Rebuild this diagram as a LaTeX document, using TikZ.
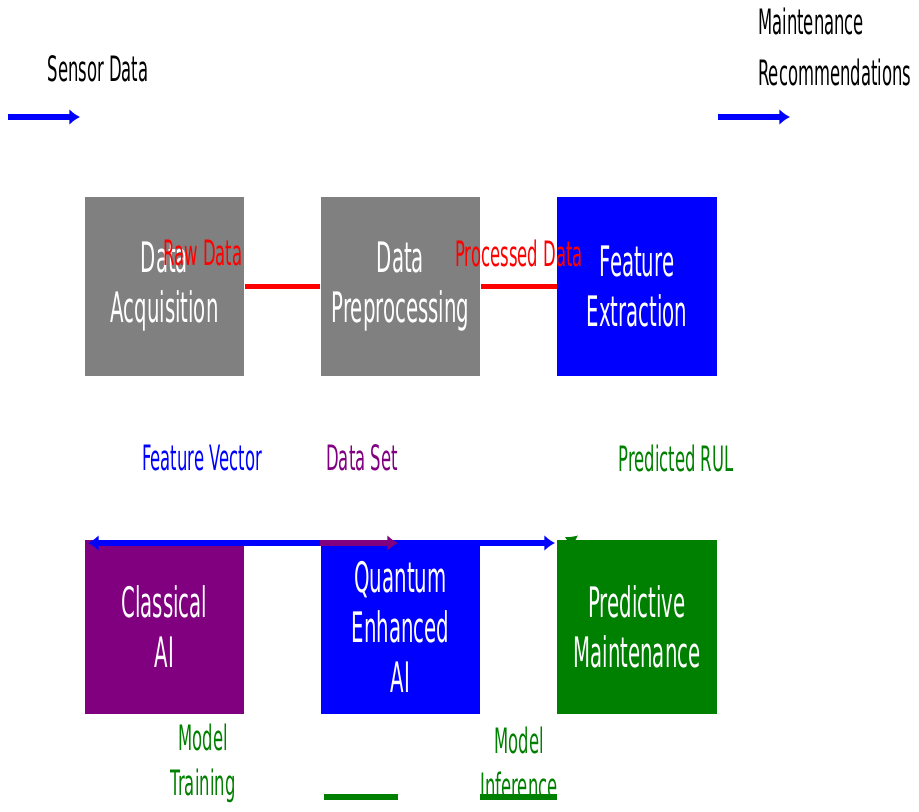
\documentclass[tikz,border=0pt]{standalone}
\usepackage{fontspec}
\setmainfont[FakeStretch=0.47]{DejaVu Sans}
\usetikzlibrary{arrows.meta}
\definecolor{mplgray}{RGB}{128,128,128}
\definecolor{mplgreen}{RGB}{0,128,0}
\definecolor{mplpurple}{RGB}{128,0,128}
\newcommand{\boxfont}{\fontsize{23.9}{28.5}\selectfont}
\newcommand{\labfont}{\fontsize{19.9}{28.5}\selectfont}
\newcommand{\modfont}{\fontsize{19.9}{25.6}\selectfont}

\begin{document}
\begin{tikzpicture}[x=0.02cm,y=-0.02cm,>={Latex[length=6pt,width=9pt]},
  stage/.style={rectangle,inner sep=0pt,minimum width=3.2cm,minimum height=3.58cm,
    text=white,align=center,font=\boxfont},
  flow/.style={#1,line width=3pt},
  tag/.style={text=#1,align=center,font=\labfont}]
\useasboundingbox (0,0) rectangle (919,811);

% === Pipeline, top row ===
\node[stage,fill=mplgray] (acq) at (164.5,286.5) {Data\\Acquisition};
\node[stage,fill=mplgray] (pre) at (400.5,286.5) {Data\\Preprocessing};
\node[stage,fill=blue] (fex) at (637,286.5) {Feature\\Extraction};
\draw[flow=red] (acq) -- (pre);
\draw[flow=red] (pre) -- (fex);
\node[tag=red] (raw) at (203,253) {Raw Data};
\node[tag=red] (proc) at (519,253) {Processed Data};

% === Models, bottom row ===
\node[stage,fill=mplpurple,minimum height=3.48cm] (cls) at (164.5,627) {Classical\\AI};
\node[stage,fill=blue,minimum height=3.48cm] (qai) at (400.5,627) {Quantum\\Enhanced\\AI};
\node[stage,fill=mplgreen,minimum height=3.48cm] (pdm) at (637,627) {Predictive\\Maintenance};

% in/out arrows
\coordinate (sdA) at (8,117);
\coordinate (sdB) at (80,117);
\coordinate (mrA) at (718,117);
\coordinate (mrB) at (790,117);
\draw[flow=blue,->] (sdA) -- (sdB);
\draw[flow=blue,->] (mrA) -- (mrB);
\node[tag=black] (sensor) at (98,69) {Sensor Data};
\node[tag=black,align=left,anchor=west] (recom) at (752,47) {Maintenance\\Recommendations};

% vectors along the lower row
\coordinate (fvL) at (88,543);
\coordinate (fvR) at (555,543);
\coordinate (dsL) at (320,543);
\coordinate (dsR) at (398,543);
\coordinate (rulA) at (574,542);
\coordinate (rulB) at (565,537);
\draw[flow=blue,<->] (fvL) -- (fvR);
\draw[flow=mplpurple,->] (dsL) -- (dsR);
\draw[mplgreen,line width=1pt,->] (rulA) -- (rulB);
\node[tag=blue] (fvec) at (202,458) {Feature Vector};
\node[tag=mplpurple] (dset) at (362,458) {Data Set};
\node[tag=mplgreen] (rul) at (676,458) {Predicted RUL};

% training / inference
\node[tag=mplgreen,font=\modfont] (train) at (203,763) {Model\\Training};
\node[tag=mplgreen,font=\modfont] (infer) at (519,763) {Model\\Inference};
\coordinate (trA) at (324,797);
\coordinate (trB) at (398,797);
\coordinate (inA) at (480,797);
\coordinate (inB) at (557,797);
\draw[flow=mplgreen] (trA) -- (trB);
\draw[flow=mplgreen] (inA) -- (inB);
\end{tikzpicture}
\end{document}
